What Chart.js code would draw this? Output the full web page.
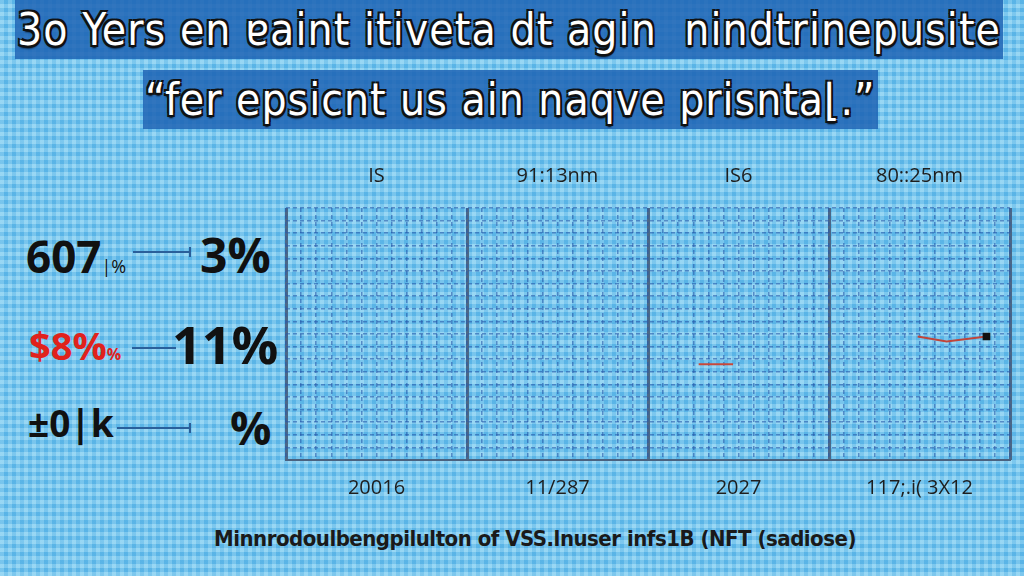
<!DOCTYPE html>
<html>
<head>
<meta charset="utf-8">
<script src="https://cdn.jsdelivr.net/npm/chart.js@4.4.1/dist/chart.umd.min.js"></script>
<style>
  html,body{margin:0;padding:0;}
  body{width:1024px;height:576px;overflow:hidden;position:relative;
    background-color:#66c3ee;
    background-image:
      repeating-linear-gradient(0deg, rgba(255,255,255,0.18) 0 4px, rgba(40,120,200,0.10) 4px 8px),
      repeating-linear-gradient(90deg, rgba(255,255,255,0.18) 0 4px, rgba(40,120,200,0.10) 4px 8px);
    font-family:"Open Sans","DejaVu Sans",sans-serif;}
  #wrap{position:absolute;left:0;top:0;width:1024px;height:576px;}
  .t{position:absolute;white-space:nowrap;line-height:1;}
  .title{font-family:"DejaVu Sans Condensed","DejaVu Sans",sans-serif;color:#fff;
    text-shadow:-2px -2px 0 #111,2px -2px 0 #111,-2px 2px 0 #111,2px 2px 0 #111,0 3px 2px #000;}
  .title span{background:rgba(30,100,180,0.85);padding:4px 2px;}
  .big{font-weight:700;color:#111;}
  .ln{position:absolute;height:2px;background:#2a5f9a;}
  .cap{position:absolute;width:2px;height:10px;background:#2a5f9a;}
</style>
</head>
<body>
<div class="t title" style="left:15px;top:8px;font-size:44px;letter-spacing:1.1px;"><span>3o Yers en ɐaint itiveta dt agin&nbsp; nindtrinepusite</span></div>
<div class="t title" style="left:143px;top:78px;font-size:44px;letter-spacing:1px;"><span>“fer epsicnt us ain naqve prisnta⌊.”</span></div>

<div class="t big" style="left:26px;top:234px;font-size:44px;">607<span style="font-size:18px;font-weight:400;">|%</span></div>
<div class="ln" style="left:133px;top:251px;width:58px;"></div><div class="cap" style="left:189px;top:247px;"></div>
<div class="t big" style="left:200px;top:231px;font-size:48px;">3%</div>

<div class="t big" style="left:29px;top:326px;font-size:38px;color:#e0221c;">$8%<span style="font-size:16px;">%</span></div>
<div class="ln" style="left:132px;top:347px;width:44px;"></div>
<div class="t big" style="left:172px;top:318px;font-size:52px;">11%</div>

<div class="t big" style="left:28px;top:404px;font-size:37px;font-weight:700;">±0|k</div>
<div class="ln" style="left:117px;top:427px;width:74px;"></div><div class="cap" style="left:189px;top:423px;"></div>
<div class="t big" style="left:230px;top:404px;font-size:46px;">%</div>

<div class="t" style="left:214px;top:528px;font-size:22px;font-weight:700;color:#1a1a1a;font-family:'Liberation Sans Narrow','DejaVu Sans Condensed',sans-serif;letter-spacing:-0.5px;">Minnrodoulbengpilulton of VSS.lnuser infs1B (NFT (sadiose)</div>

<div id="wrap"><canvas id="c" width="1024" height="576"></canvas></div>
<script>
// ---- data ----
const topLabels = ["IS", "91:13nm", "IS6", "80::25nm"];
const bottomLabels = ["20016", "11/287", "2027", "117;.i( 3X12"];
const seriesA_x = [1.78, 1.97];
const seriesA_y = [38, 38];
const seriesB_x = [2.99, 3.15, 3.37];
const seriesB_y = [49, 47, 49];

const panelEdges = [-0.5, 0.5, 1.5, 2.5, 3.5];
const toPts = (xs, ys) => xs.map((x, i) => ({x, y: ys[i]}));

const fineTicks = [];
for (let i = 0; i <= 48; i++) fineTicks.push(-0.5 + i / 12);

Chart.defaults.font.family = "'Open Sans','DejaVu Sans',sans-serif";

new Chart(document.getElementById('c'), {
  type: 'line',
  data: {
    datasets: [
      {label: 'A', data: toPts(seriesA_x, seriesA_y), borderColor: '#c8483a', borderWidth: 2,
       pointRadius: 0, tension: 0},
      {label: 'B', data: toPts(seriesB_x, seriesB_y), borderColor: '#c0453a', borderWidth: 2,
       tension: 0, pointStyle: 'rect',
       pointRadius: ctx => ctx.dataIndex === seriesB_x.length - 1 ? 4 : 0,
       pointBackgroundColor: '#111', pointBorderColor: '#111'}
    ]
  },
  options: {
    responsive: false, animation: false,
    layout: {padding: {left: 286, right: 14, top: 150, bottom: 66}},
    plugins: {legend: {display: false}, tooltip: {enabled: false}},
    scales: {
      x: {type: 'linear', position: 'bottom', min: -0.5, max: 3.5,
          afterBuildTicks: s => { s.ticks = [0,1,2,3].map(v => ({value: v})); },
          ticks: {callback: v => bottomLabels[v], color: '#1e1e1e', font: {size: 20}, padding: 16, maxRotation: 0, autoSkip: false},
          grid: {display: false, drawTicks: false},
          border: {display: true, color: '#4a6280', width: 2},
          afterFit: s => { s.height = 50; }},
      xTop: {type: 'linear', position: 'top', min: -0.5, max: 3.5,
          afterBuildTicks: s => { s.ticks = [0,1,2,3].map(v => ({value: v})); },
          ticks: {callback: v => topLabels[v], color: '#1e1e1e', font: {size: 20}, padding: 20, maxRotation: 0, autoSkip: false},
          grid: {display: false, drawTicks: false}, border: {display: false},
          afterFit: s => { s.height = 58; }},
      xPanel: {type: 'linear', position: 'bottom', min: -0.5, max: 3.5,
          afterBuildTicks: s => { s.ticks = panelEdges.map(v => ({value: v})); },
          ticks: {display: false},
          grid: {color: '#4b6787', lineWidth: 3, drawTicks: false}, border: {display: false},
          afterFit: s => { s.height = 0; }},
      xFine: {type: 'linear', position: 'bottom', min: -0.5, max: 3.5,
          afterBuildTicks: s => { s.ticks = fineTicks.map(v => ({value: v})); },
          ticks: {display: false},
          grid: {color: 'rgba(40,90,170,0.6)', lineWidth: 1.5, drawTicks: false},
          border: {display: false, dash: [4, 3]},
          afterFit: s => { s.height = 0; }},
      y: {type: 'linear', min: 0, max: 100,
          ticks: {display: false, stepSize: 5},
          grid: {color: 'rgba(40,90,170,0.6)', lineWidth: 1.5, drawTicks: false},
          border: {display: false, dash: [4, 3]},
          afterFit: s => { s.width = 0; }}
    }
  }
});
</script>
</body>
</html>
